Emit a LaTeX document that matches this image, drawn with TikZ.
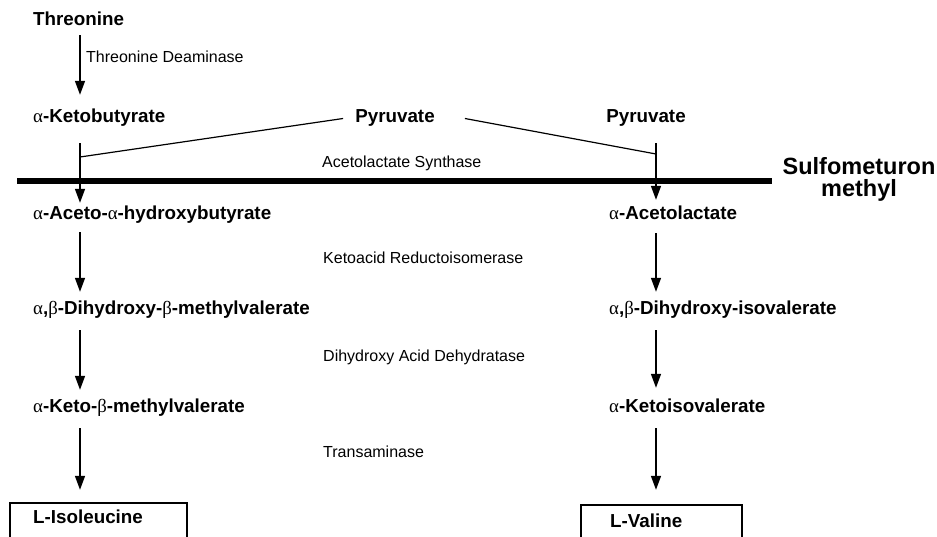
\documentclass[tikz,border=0pt]{standalone}
\usepackage{fontspec}
\setmainfont{Liberation Sans}
\newfontfamily\grk{Liberation Serif}
\newcommand{\ga}{{\grk\mdseries α}}
\newcommand{\gb}{{\grk\mdseries β}}
\usetikzlibrary{arrows.meta,positioning}
\tikzset{
    chem/.style={font=\fontsize{18.8}{21}\selectfont\bfseries, inner sep=0pt, text height=13pt, text depth=4pt, anchor=base west},
    enz/.style={font=\fontsize{16}{19}\selectfont, inner sep=0pt, anchor=base west},
    arr/.style={line width=1.5pt, -{Triangle[length=14pt,width=10pt]}, shorten <=10pt, shorten >=10pt},
    thin/.style={line width=1.2pt}
}

\begin{document}
\begin{tikzpicture}[x=1pt,y=-1pt]
                                \useasboundingbox (0,0) rectangle (937,537);
                                \coordinate (lc) at (80,0);
                                \coordinate (rc) at (656,0);
                                \coordinate (jl) at (80,157);
                                \coordinate (jr) at (656,154);
                                \coordinate (bl) at (17,181);
                                \node[chem] (thr) at (33,26) {Threonine};
                                \node[enz] (tda) at (86,63) {Threonine Deaminase};
                                \node[chem] (akb) at (33,123) {\ga-Ketobutyrate};
                                \node[chem, anchor=base] (pyr1) at (395,123) {Pyruvate};
                                \node[chem, anchor=base] (pyr2) at (646,123) {Pyruvate};
                                \node[enz] (als) at (322,168) {Acetolactate Synthase};
                                \node[font=\fontsize{23.5}{22}\selectfont\bfseries, align=center, inner sep=0pt] (smm) at (859,179) {Sulfometuron\\methyl};
                                \node[chem] (aah) at (33,220) {\ga-Aceto-\ga-hydroxybutyrate};
                                \node[chem] (alac) at (609,220) {\ga-Acetolactate};
                                \node[enz] (kari) at (323,264) {Ketoacid Reductoisomerase};
                                \node[chem] (dhmv) at (33,315) {\ga,\gb-Dihydroxy-\gb-methylvalerate};
                                \node[chem] (dhiv) at (609,315) {\ga,\gb-Dihydroxy-isovalerate};
                                \node[enz] (dhad) at (323,361) {Dihydroxy Acid Dehydratase};
                                \node[chem] (kmv) at (33,412) {\ga-Keto-\gb-methylvalerate};
                                \node[chem] (kiv) at (609,412) {\ga-Ketoisovalerate};
                                \node[enz] (ta) at (323,457) {Transaminase};
                                \node[chem] (ile) at (33,523) {L-Isoleucine};
                                \node[chem] (val) at (610,527) {L-Valine};
                                \draw[thin] (10,537) |- (187,503) -- (187,537);
                                \draw[thin] (581,537) |- (742,505) -- (742,537);
                                \draw[line width=5.5pt, shorten >=10pt] (bl) -- (bl -| smm.west);
                                \draw[thin]
                                ([xshift=-12pt]pyr1.west) -- (jl)
                                ([xshift=30pt]pyr1.east) -- (jr);
                                \draw
                                (thr.south -| lc) edge[arr, shorten <=5pt, shorten >=15pt] (akb.north -| lc)
                                (akb.south -| lc) edge[arr, shorten <=16pt, shorten >=4pt] (aah.north -| lc)
                                (pyr2.south -| rc) edge[arr, shorten <=16pt, shorten >=7pt] (alac.north -| rc)
                                (aah.south -| lc) edge[arr, shorten <=8pt] (dhmv.north -| lc)
                                (dhmv.south -| lc) edge[arr, shorten <=11pt, shorten >=9pt] (kmv.north -| lc)
                                (kmv.south -| lc) edge[arr, shorten <=12pt, shorten >=20pt] (ile.north -| lc)
                                (alac.south -| rc) edge[arr, shorten <=9pt] (dhiv.north -| rc)
                                (dhiv.south -| rc) edge[arr, shorten <=11pt, shorten >=11pt] (kiv.north -| rc)
                                (kiv.south -| rc) edge[arr, shorten <=12pt, shorten >=24pt] (val.north -| rc);
                            \end{tikzpicture}
\end{document}
